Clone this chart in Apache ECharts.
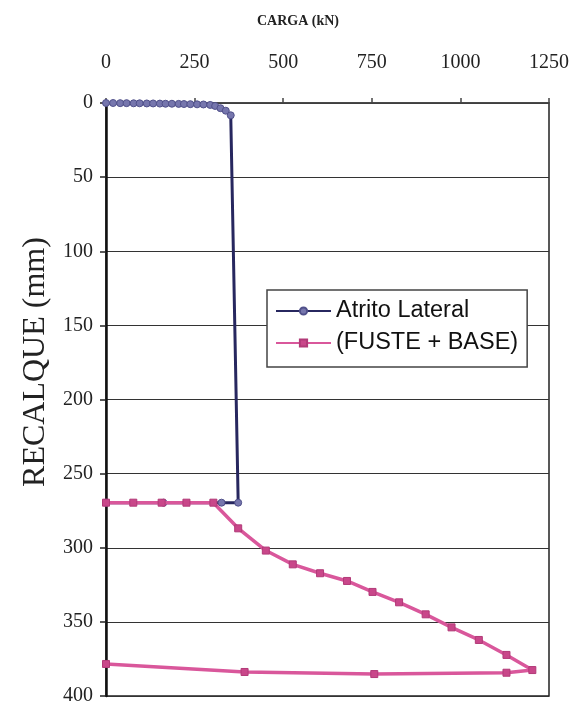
<!DOCTYPE html>
<html>
<head>
<meta charset="utf-8">
<script src="https://cdn.jsdelivr.net/npm/echarts@6/dist/echarts.min.js"></script>
<style>
  html, body { margin: 0; padding: 0; background: #fff; }
  #chart { width: 577px; height: 711px; }
</style>
</head>
<body>
<div id="chart"></div>
<script>
// Load (kN) vs settlement (mm) of the pile test
const cargaTicks = [0, 250, 500, 750, 1000, 1250];
const recalqueTicks = [0, 50, 100, 150, 200, 250, 300, 350, 400];

// Series 1: shaft friction only (loading, then unloading at final settlement)
const atritoCarga = [0, 20, 40, 58, 78, 95, 115, 133, 152, 168, 186, 205, 220, 238, 257, 275, 294, 308, 323, 338, 352, 373, 326, 162, 0];
const atritoRecalque = [0, 0, 0.1, 0.1, 0.2, 0.2, 0.3, 0.3, 0.4, 0.5, 0.5, 0.6, 0.7, 0.8, 0.9, 1.0, 1.3, 2.0, 3.5, 5.2, 8.3, 269.6, 269.6, 269.6, 269.6];

// Series 2: shaft + base (reloading, then unloading)
const fusteCarga = [0, 77, 157, 227, 303, 373, 451, 527, 604, 680, 752, 827, 902, 975, 1052, 1130, 1203, 1130, 757, 391, 0];
const fusteRecalque = [269.6, 269.6, 269.6, 269.6, 269.6, 286.9, 301.9, 311.2, 317.2, 322.4, 329.8, 336.8, 344.9, 353.7, 362.2, 372.3, 382.5, 384.3, 385.2, 383.8, 378.4];

const serieNomes = ['Atrito Lateral', '(FUSTE + BASE)'];

const pares = (xs, ys) => xs.map((x, i) => [x, ys[i]]);

const chart = echarts.init(document.getElementById('chart'), null, { renderer: 'canvas' });

const serif = 'Liberation Serif, Times New Roman, serif';
const sans = 'Liberation Sans, Arial, sans-serif';

chart.setOption({
  animation: false,
  backgroundColor: '#ffffff',
  grid: {
    left: 106, right: 28, top: 103, bottom: 15,
    show: true, borderColor: '#222', borderWidth: 1.5, backgroundColor: 'transparent'
  },
  xAxis: {
    type: 'value',
    position: 'top',
    min: cargaTicks[0],
    max: cargaTicks[cargaTicks.length - 1],
    interval: cargaTicks[1] - cargaTicks[0],
    axisLine: { show: true, lineStyle: { color: '#444', width: 1.5 } },
    axisTick: { show: true, inside: false, length: 5, lineStyle: { color: '#444', width: 1.5 } },
    splitLine: { show: false },
    axisLabel: { fontFamily: serif, fontSize: 20, color: '#222', margin: 30, formatter: v => String(v) }
  },
  yAxis: {
    type: 'value',
    inverse: true,
    min: recalqueTicks[0],
    max: recalqueTicks[recalqueTicks.length - 1],
    interval: recalqueTicks[1] - recalqueTicks[0],
    axisLine: { show: true, lineStyle: { color: '#111', width: 2.5 } },
    axisTick: { show: true, inside: false, length: 6, lineStyle: { color: '#222', width: 1.5 } },
    splitLine: { show: true, lineStyle: { color: '#333', width: 1 } },
    axisLabel: { fontFamily: serif, fontSize: 20, color: '#222', margin: 13, formatter: v => String(v) }
  },
  legend: {
    orient: 'vertical',
    left: 267, top: 290,
    data: serieNomes,
    itemWidth: 55, itemHeight: 9, itemGap: 8,
    padding: [9, 9, 12, 8],
    backgroundColor: '#fff',
    borderColor: '#444', borderWidth: 1.5,
    textStyle: { fontFamily: sans, fontSize: 23.5, color: '#111' }
  },
  graphic: [
    {
      type: 'text', x: 298, y: 21,
      style: { text: 'CARGA (kN)', font: 'bold 14px ' + serif, fill: '#222', align: 'center', verticalAlign: 'middle' }
    },
    {
      type: 'text', x: 36, y: 362, rotation: Math.PI / 2,
      style: { text: 'RECALQUE (mm)', font: '32px ' + serif, fill: '#222', align: 'center', verticalAlign: 'middle' }
    }
  ],
  series: [
    {
      name: serieNomes[0],
      type: 'line',
      data: pares(atritoCarga, atritoRecalque),
      symbol: 'circle', symbolSize: 7,
      lineStyle: { color: '#27275f', width: 3 },
      itemStyle: { color: '#7676ad', borderColor: '#50508a', borderWidth: 1 },
      z: 2
    },
    {
      name: serieNomes[1],
      type: 'line',
      data: pares(fusteCarga, fusteRecalque),
      symbol: 'rect', symbolSize: 7,
      lineStyle: { color: '#d9579b', width: 3.5 },
      itemStyle: { color: '#c9478a', borderColor: '#b23a78', borderWidth: 1 },
      z: 3
    }
  ]
});
</script>
</body>
</html>
